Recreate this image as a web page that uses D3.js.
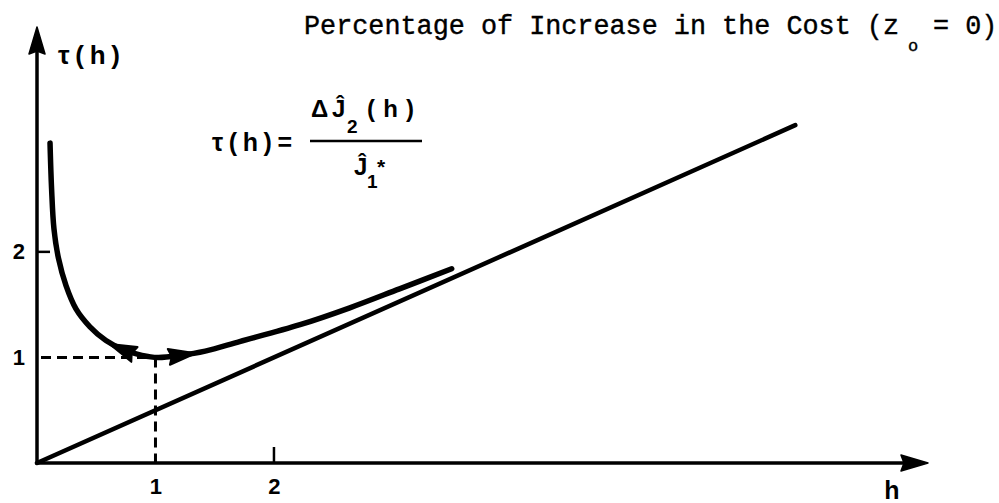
<!DOCTYPE html>
<html>
<head>
<meta charset="utf-8">
<script src="https://cdn.jsdelivr.net/npm/d3@7"></script>
<style>
  html, body { margin: 0; padding: 0; background: #fff; }
  svg { display: block; }
  .lbl { font-family: "Liberation Sans", Arial, sans-serif; font-weight: bold; fill: #000; }
  .mono { font-family: "Liberation Mono", "DejaVu Sans Mono", monospace; fill: #000; stroke: #000; stroke-width: 0.4px; }
</style>
</head>
<body>
<script>
// tau(h): relative increase in the cost as a function of h
const curveH   = [0.110, 0.123, 0.143, 0.181, 0.245, 0.329, 0.447, 0.582, 0.734, 0.886, 1.02, 1.21, 1.42, 1.71, 2.22, 2.64, 3.06, 3.50];
const curveTau = [3.03, 2.60, 2.22, 1.94, 1.68, 1.46, 1.29, 1.16, 1.07, 1.02, 1.00, 1.02, 1.06, 1.15, 1.31, 1.47, 1.65, 1.84];

// straight reference line tau = h/2
const lineH   = [0, 6.40];
const lineTau = [0, 3.20];

// optimum marked by dashed guides
const optH = 1, optTau = 1;

// direction markers on the curve (h position, +1 = pointing toward larger h)
const arrowH   = [0.72, 1.22];
const arrowDir = [-1, 1];

// tick labels
const xTicks = [1, 2];
const yTicks = [1, 2];

const W = 999, H = 503;
const svg = d3.select("body").append("svg").attr("width", W).attr("height", H);

const x = d3.scaleLinear().domain([0, 7.52]).range([37, 928]);
const y = d3.scaleLinear().domain([0, 4.13]).range([463, 27]);

// axes with arrowheads
svg.append("line").attr("x1", x(0)).attr("y1", y(0)).attr("x2", x(7.52) - 20).attr("y2", y(0))
  .attr("stroke", "#000").attr("stroke-width", 3.5);
svg.append("line").attr("x1", x(0)).attr("y1", y(0) + 1.5).attr("x2", x(0)).attr("y2", y(4.13) + 20)
  .attr("stroke", "#000").attr("stroke-width", 3.5);
svg.append("path")
  .attr("d", `M${x(7.52)},${y(0)} L${x(7.52) - 27},${y(0) - 8} L${x(7.52) - 24},${y(0)} L${x(7.52) - 27},${y(0) + 8} Z`)
  .attr("fill", "#000").attr("stroke", "#000").attr("stroke-width", 1.5).attr("stroke-linejoin", "round");
svg.append("path")
  .attr("d", `M${x(0)},${y(4.13)} L${x(0) - 8},${y(4.13) + 27} L${x(0)},${y(4.13) + 24} L${x(0) + 8},${y(4.13) + 27} Z`)
  .attr("fill", "#000").attr("stroke", "#000").attr("stroke-width", 1.5).attr("stroke-linejoin", "round");

// tick labels through d3 axes (no tick lines, no domain)
const xAxis = svg.append("g").attr("transform", `translate(0,${y(0)})`)
  .call(d3.axisBottom(x).tickValues(xTicks).tickSize(0).tickPadding(15).tickFormat(d3.format("d")));
const yAxis = svg.append("g").attr("transform", `translate(${x(0)},0)`)
  .call(d3.axisLeft(y).tickValues(yTicks).tickSize(0).tickPadding(12).tickFormat(d3.format("d")));
[xAxis, yAxis].forEach(g => {
  g.select(".domain").remove();
  g.selectAll("text").attr("class", "lbl").style("font-size", "22px");
});

// short tick marks at h = 2 and tau = 2
svg.append("line").attr("x1", x(2)).attr("x2", x(2)).attr("y1", y(0)).attr("y2", y(0) - 16)
  .attr("stroke", "#000").attr("stroke-width", 2.5);
svg.append("line").attr("x1", x(0)).attr("x2", x(0) + 13).attr("y1", y(2)).attr("y2", y(2))
  .attr("stroke", "#000").attr("stroke-width", 2.5);

// dashed guides to the optimum
const dash = svg.append("g").attr("stroke", "#000").attr("stroke-width", 3).attr("stroke-dasharray", "10,6");
dash.append("line").attr("x1", x(0) + 4).attr("y1", y(optTau)).attr("x2", x(optH)).attr("y2", y(optTau));
dash.append("line").attr("x1", x(optH)).attr("y1", y(optTau)).attr("x2", x(optH)).attr("y2", y(0));

// straight line
const lineGen = d3.line().x(d => x(d[0])).y(d => y(d[1]));
svg.append("path").datum(d3.zip(lineH, lineTau)).attr("d", lineGen)
  .attr("fill", "none").attr("stroke", "#000").attr("stroke-width", 4.5).attr("stroke-linecap", "round");

// tau(h) curve
const curveGen = d3.line().x(d => x(d[0])).y(d => y(d[1])).curve(d3.curveCatmullRom.alpha(0.5));
const curvePath = svg.append("path").datum(d3.zip(curveH, curveTau)).attr("d", curveGen)
  .attr("fill", "none").attr("stroke", "#000").attr("stroke-width", 5.5)
  .attr("stroke-linecap", "round").attr("stroke-linejoin", "round");

// arrowheads placed on the curve, oriented along its tangent
const node = curvePath.node();
const total = node.getTotalLength();
function lengthAtX(px) {
  let best = 0, bestD = Infinity;
  for (let l = 0; l <= total; l += 0.5) {
    const p = node.getPointAtLength(l);
    const dd = Math.abs(p.x - px);
    if (dd < bestD) { bestD = dd; best = l; }
  }
  return best;
}
arrowH.forEach((h, i) => {
  const l = lengthAtX(x(h));
  const p = node.getPointAtLength(l);
  const a = node.getPointAtLength(Math.max(0, l - 4));
  const b = node.getPointAtLength(Math.min(total, l + 4));
  let ang = Math.atan2(b.y - a.y, b.x - a.x) * 180 / Math.PI;
  if (arrowDir[i] < 0) ang += 180;
  svg.append("path")
    .attr("d", "M14,0 L-13,-8 L-10,0 L-13,8 Z")
    .attr("transform", `translate(${p.x},${p.y}) rotate(${ang})`)
    .attr("fill", "#000").attr("stroke", "#000").attr("stroke-width", 2).attr("stroke-linejoin", "round");
});

// axis names
svg.append("text").attr("class", "lbl").attr("x", 58).attr("y", 64)
  .attr("textLength", 62).attr("lengthAdjust", "spacing")
  .style("font-size", "26px").text("τ(h)");
svg.append("text").attr("class", "lbl").attr("x", 892).attr("y", 499).attr("text-anchor", "middle")
  .style("font-size", "25px").text("h");

// formula
const f = svg.append("g");
f.append("text").attr("class", "lbl").attr("x", 212).attr("y", 151)
  .attr("textLength", 80).attr("lengthAdjust", "spacing")
  .style("font-size", "25px").text("τ(h)=");
f.append("line").attr("x1", 310).attr("x2", 422).attr("y1", 141).attr("y2", 141)
  .attr("stroke", "#000").attr("stroke-width", 2.5);
f.append("text").attr("class", "lbl").attr("x", 311).attr("y", 117).style("font-size", "24px").text("Δ");
f.append("text").attr("class", "lbl").attr("x", 332).attr("y", 117).style("font-size", "24px").text("Ĵ");
f.append("text").attr("class", "lbl").attr("x", 347).attr("y", 133).style("font-size", "19px").text("2");
f.append("text").attr("class", "lbl").attr("x", 367).attr("y", 117)
  .attr("textLength", 47).attr("lengthAdjust", "spacing")
  .style("font-size", "24px").text("(h)");
f.append("text").attr("class", "lbl").attr("x", 354).attr("y", 175).style("font-size", "24px").text("Ĵ");
f.append("text").attr("class", "lbl").attr("x", 367).attr("y", 188).style("font-size", "19px").text("1");
f.append("text").attr("class", "lbl").attr("x", 377).attr("y", 174).style("font-size", "21px").text("*");

// title, with the subscript set between its two parts
svg.append("text").attr("class", "mono").attr("x", 304).attr("y", 34).style("font-size", "26.8px")
  .text("Percentage of Increase in the Cost (z");
svg.append("text").attr("class", "mono").attr("x", 913).attr("y", 51).attr("text-anchor", "middle")
  .style("font-size", "17px").text("o");
svg.append("text").attr("class", "mono").attr("x", 933).attr("y", 34).style("font-size", "26.8px")
  .attr("xml:space", "preserve").style("white-space", "pre").text("= 0)");
</script>
</body>
</html>
